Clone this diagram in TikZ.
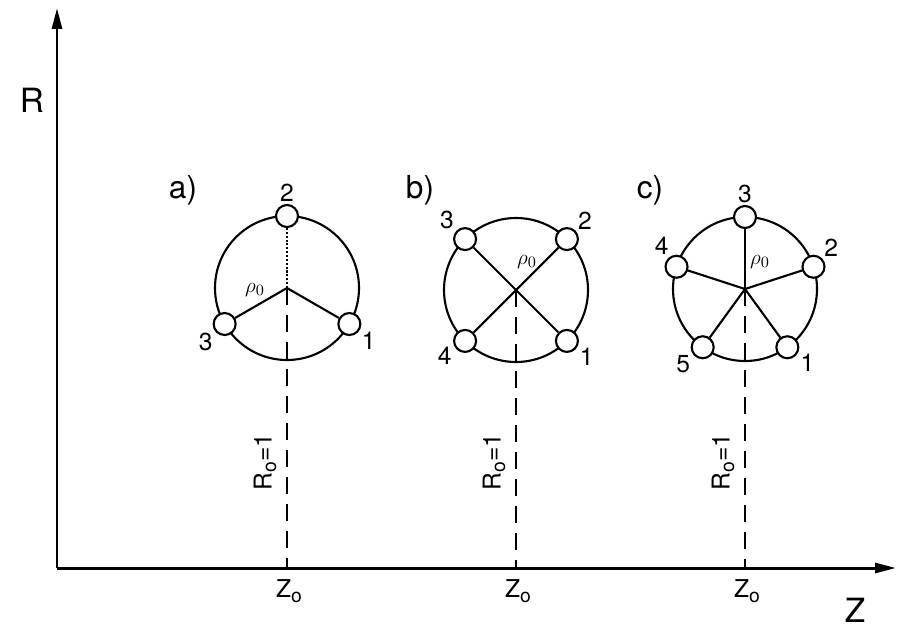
\documentclass[tikz,border=0pt]{standalone}
\usepackage{fontspec}
\setmainfont{TeX Gyre Heros}
\usetikzlibrary{arrows.meta, calc}
\newcommand{\lowo}{\raisebox{-0.35ex}{\fontsize{11}{12}\selectfont o}}
\tikzset{
  axis/.style = {
    draw=black, line width=1.7pt,
    -{Triangle[length=0.42cm, width=0.2cm]}
  },
  ring/.style = { draw=black, line width=1.2pt },
  bead/.style = {
    circle, draw=black, line width=1.2pt, fill=white,
    minimum size=0.44cm, inner sep=0pt
  },
  spoke/.style = { draw=black, line width=1.2pt },
  level/.style = { draw=black, line width=1pt, dash pattern=on 0.34cm off 0.2cm },
  num/.style = { font=\fontsize{14}{16}\selectfont, inner sep=1pt },
  axlbl/.style = { font=\fontsize{19}{21}\selectfont },
  tag/.style = { font=\fontsize{18}{20}\selectfont },
  rho/.style = { font=\fontsize{13}{14}\selectfont, inner sep=0pt }
}

\begin{document}
\begin{tikzpicture}[x=0.02cm, y=0.02cm, label distance=0pt]

    \useasboundingbox (0,0) rectangle (898,627);

    % ------------------------------------------------------------- Axes
    \coordinate (origin) at (57, 59);
    \coordinate (rtop)   at (57, 619);
    \coordinate (zend)   at (896, 59);
    \draw [axis] (origin) -- (rtop);
    \draw [axis] (origin) -- (zend);
    \node [axlbl] (rlbl) at (32, 527) {R};
    \node [axlbl] (zlbl) at (855, 17) {Z};

    % ------------------------------------------------------- Centres
    \coordinate (ca) at (287, 339);
    \coordinate (cb) at (516, 337);
    \coordinate (cc) at (745, 338);
    \coordinate (za) at (287, 59);
    \coordinate (zb) at (516, 59);
    \coordinate (zc) at (745, 59);

    % ------------------------------------------------------- Rings
    \draw [ring] (ca) circle (72);
    \draw [ring] (cb) circle (72);
    \draw [ring] (cc) circle (72);

    % ------------------------------------------------------- Level lines
    \draw [level] (ca) -- (za);
    \draw [level] (cb) -- (zb);
    \draw [level] (cc) -- (zc);

    % ------------------------------------------------------- a) three beads
    \node [bead, label={[num]90:2}]   (a2) at ($(ca)+(90:72)$)  {};
    \node [bead, label={[num]213:3}]  (a3) at ($(ca)+(210:72)$) {};
    \node [bead, label={[num]-31:1}]  (a1) at ($(ca)+(-30:72)$) {};

    % ------------------------------------------------------- b) four beads
    \node [bead, label={[num]41:2}]   (b2) at ($(cb)+(45:72)$)  {};
    \node [bead, label={[num]140:3}]  (b3) at ($(cb)+(135:72)$) {};
    \node [bead, label={[num]200:4}]  (b4) at ($(cb)+(225:72)$) {};
    \node [bead, label={[num]-25:1}]  (b1) at ($(cb)+(-45:72)$) {};

    % ------------------------------------------------------- c) five beads
    \node [bead, label={[num]90:3}]   (c3) at ($(cc)+(90:72)$)  {};
    \node [bead, label={[num]43:2}]   (c2) at ($(cc)+(18:72)$)  {};
    \node [bead, label={[num]119:4}]  (c4) at ($(cc)+(162:72)$) {};
    \node [bead, label={[num]210:5}]  (c5) at ($(cc)+(234:72)$) {};
    \node [bead, label={[num]-23:1}]  (c1) at ($(cc)+(306:72)$) {};

    % ------------------------------------------------------- Spokes
    \draw [spoke, densely dotted] (ca) -- (a2);
    \draw [spoke] (ca) -- (a3);
    \draw [spoke] (ca) -- (a1);

    \draw [spoke] (b3) -- (b1);
    \draw [spoke] (b4) -- (b2);

    \draw [spoke] (cc) -- (c1);
    \draw [spoke] (cc) -- (c2);
    \draw [spoke] (cc) -- (c3);
    \draw [spoke] (cc) -- (c4);
    \draw [spoke] (cc) -- (c5);

    % ------------------------------------------------------- Labels
    \node [tag] (taga) at (183, 437) {a)};
    \node [tag] (tagb) at (420, 437) {b)};
    \node [tag] (tagc) at (650, 437) {c)};

    \node [rho] (rhoa) at ($(ca)+(-32,-2)$) {$\rho_0$};
    \node [rho] (rhob) at ($(cb)+(11,28)$)  {$\rho_0$};
    \node [rho] (rhoc) at ($(cc)+(15,27)$)  {$\rho_0$};

    \node [num, rotate=90] (ra) at (265, 165) {R\lowo=1};
    \node [num, rotate=90] (rb) at (494, 165) {R\lowo=1};
    \node [num, rotate=90] (rc) at (723, 165) {R\lowo=1};

    \node [num] (zoa) at (289, 36) {Z\lowo};
    \node [num] (zob) at (518, 36) {Z\lowo};
    \node [num] (zoc) at (747, 36) {Z\lowo};

  \end{tikzpicture}
\end{document}
